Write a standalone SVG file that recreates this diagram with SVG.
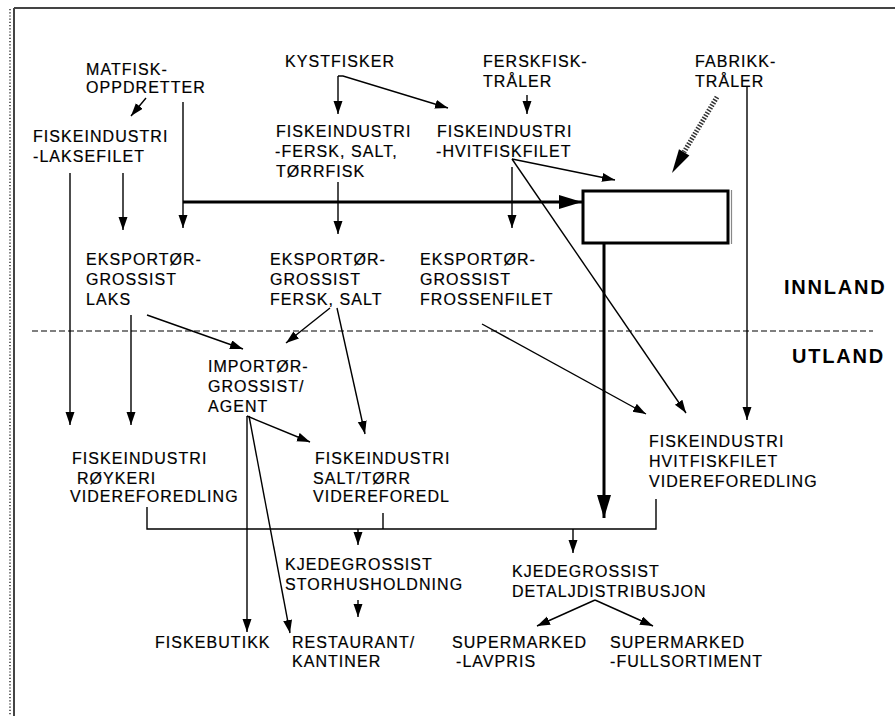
<svg xmlns="http://www.w3.org/2000/svg" width="895" height="716" viewBox="0 0 895 716">
<style>
text{font-family:"Liberation Sans",Arial,sans-serif;font-size:16px;letter-spacing:1.05px;fill:#000;stroke:#000;stroke-width:0.2}
.big{font-size:20px;font-weight:bold;letter-spacing:1.8px;stroke-width:0}
.c{fill:none;stroke:#000;stroke-width:1.4}
.t{fill:none;stroke:#000;stroke-width:3}
</style>
<defs>
<marker id="a" markerUnits="userSpaceOnUse" markerWidth="14" markerHeight="10" refX="13" refY="4.5" orient="auto"><path d="M0,0 L13,4.5 L0,9 z" fill="#000"/></marker>
<marker id="b" markerUnits="userSpaceOnUse" markerWidth="24" markerHeight="14" refX="23" refY="7" orient="auto"><path d="M0,0 L23,7 L0,14 z" fill="#000"/></marker>
</defs>
<rect width="895" height="716" fill="#fff"/>
<g id="frame">
<line x1="14" y1="8" x2="895" y2="8" stroke="#444" stroke-width="2"/>
<line x1="14" y1="8" x2="14" y2="716" stroke="#444" stroke-width="2"/>
<line x1="10" y1="9" x2="10" y2="716" stroke="#333" stroke-width="1.5" stroke-dasharray="1.2,2"/>
<line x1="32" y1="331" x2="873" y2="331" stroke="#000" stroke-width="1.2" stroke-dasharray="6,3"/>
</g>
<g id="connectors">
<line class="c" x1="146" y1="98" x2="131" y2="116" stroke-width="2.2" marker-end="url(#a)"/>
<line class="c" x1="70" y1="173" x2="70" y2="425" marker-end="url(#a)"/>
<line class="c" x1="123" y1="173" x2="123" y2="230" marker-end="url(#a)"/>
<line class="c" x1="183" y1="102" x2="183" y2="228" marker-end="url(#a)"/>
<line class="t" x1="183" y1="202" x2="582" y2="202" marker-end="url(#b)"/>
<line class="c" x1="338" y1="76" x2="338" y2="114" marker-end="url(#a)"/>
<polyline class="c" points="338,76 343,76 448,108" marker-end="url(#a)"/>
<line class="c" x1="527" y1="95" x2="527" y2="114" marker-end="url(#a)"/>
<line class="c" x1="338" y1="182" x2="338" y2="234" marker-end="url(#a)"/>
<line class="c" x1="512" y1="167" x2="512" y2="228" marker-end="url(#a)"/>
<line class="c" x1="512" y1="159" x2="615" y2="180" marker-end="url(#a)"/>
<line class="c" x1="512" y1="159" x2="686" y2="413" marker-end="url(#a)"/>
<line x1="717" y1="97" x2="684" y2="152" stroke="#333" stroke-width="5" stroke-dasharray="1.5,1.5"/>
<polygon points="672,173 689.4,155.4 679,149.2" fill="#000"/>
<line class="c" x1="747" y1="87" x2="747" y2="420" marker-end="url(#a)"/>
<line class="t" x1="604" y1="243" x2="604" y2="518" marker-end="url(#b)"/>
<line class="c" x1="131" y1="315" x2="131" y2="425" marker-end="url(#a)"/>
<line class="c" x1="147" y1="315" x2="243" y2="349" marker-end="url(#a)"/>
<line class="c" x1="330" y1="308" x2="286" y2="343" marker-end="url(#a)"/>
<line class="c" x1="337" y1="308" x2="365" y2="434" marker-end="url(#a)"/>
<line class="c" x1="482" y1="324" x2="646" y2="414" marker-end="url(#a)"/>
<line class="c" x1="247" y1="416" x2="310" y2="442" marker-end="url(#a)"/>
<line class="c" x1="247" y1="416" x2="247" y2="632" marker-end="url(#a)"/>
<line class="c" x1="249" y1="416" x2="290" y2="633" marker-end="url(#a)"/>
<polyline class="c" points="147,507 147,529 656,529 656,499"/>
<line class="c" x1="383" y1="513" x2="383" y2="529"/>
<line class="c" x1="358" y1="529" x2="358" y2="545" marker-end="url(#a)"/>
<line class="c" x1="573" y1="529" x2="573" y2="553" marker-end="url(#a)"/>
<line class="c" x1="358" y1="600" x2="358" y2="617" marker-end="url(#a)"/>
<line class="c" x1="595" y1="600" x2="537" y2="626" marker-end="url(#a)"/>
<line class="c" x1="595" y1="600" x2="653" y2="626" marker-end="url(#a)"/>
</g>
<g id="box">
<rect x="583" y="191" width="145" height="52" fill="#fff" stroke="#000" stroke-width="3"/>
<line x1="731.5" y1="190" x2="731.5" y2="244" stroke="#888" stroke-width="1.2"/>
</g>
<g id="matfisk"><text x="86" y="75">MATFISK-</text><text x="86" y="93">OPPDRETTER</text></g>
<g id="kystfisker"><text x="285" y="67">KYSTFISKER</text></g>
<g id="ferskfisktraler"><text x="483" y="67">FERSKFISK-</text><text x="483" y="87">TRÅLER</text></g>
<g id="fabrikktraler"><text x="695" y="67">FABRIKK-</text><text x="695" y="87">TRÅLER</text></g>
<g id="fi-laksefilet"><text x="33" y="142">FISKEINDUSTRI</text><text x="33" y="162">-LAKSEFILET</text></g>
<g id="fi-fersk"><text x="276" y="137">FISKEINDUSTRI</text><text x="275" y="157">-FERSK, SALT,</text><text x="276" y="177">TØRRFISK</text></g>
<g id="fi-hvitfisk"><text x="437" y="137">FISKEINDUSTRI</text><text x="436" y="157">-HVITFISKFILET</text></g>
<g id="eks-laks"><text x="86" y="265">EKSPORTØR-</text><text x="86" y="285">GROSSIST</text><text x="86" y="305">LAKS</text></g>
<g id="eks-fersk"><text x="270" y="265">EKSPORTØR-</text><text x="270" y="285">GROSSIST</text><text x="270" y="305">FERSK, SALT</text></g>
<g id="eks-frossen"><text x="420" y="265">EKSPORTØR-</text><text x="420" y="285">GROSSIST</text><text x="420" y="305">FROSSENFILET</text></g>
<g id="innland"><text class="big" x="784" y="294">INNLAND</text></g>
<g id="utland"><text class="big" x="792" y="363">UTLAND</text></g>
<g id="importor"><text x="208" y="372">IMPORTØR-</text><text x="208" y="392">GROSSIST/</text><text x="208" y="412">AGENT</text></g>
<g id="fi-royk"><text x="72" y="464">FISKEINDUSTRI</text><text x="77" y="484">RØYKERI</text><text x="70" y="502">VIDEREFOREDLING</text></g>
<g id="fi-salt"><text x="315" y="464">FISKEINDUSTRI</text><text x="313" y="484">SALT/TØRR</text><text x="313" y="502">VIDEREFOREDL</text></g>
<g id="fi-hvit-vf"><text x="649" y="447">FISKEINDUSTRI</text><text x="649" y="467">HVITFISKFILET</text><text x="649" y="487">VIDEREFOREDLING</text></g>
<g id="kjede-stor"><text x="285" y="570">KJEDEGROSSIST</text><text x="285" y="590">STORHUSHOLDNING</text></g>
<g id="kjede-detalj"><text x="512" y="577">KJEDEGROSSIST</text><text x="512" y="597">DETALJDISTRIBUSJON</text></g>
<g id="fiskebutikk"><text x="155" y="648">FISKEBUTIKK</text></g>
<g id="restaurant"><text x="292" y="648">RESTAURANT/</text><text x="292" y="667">KANTINER</text></g>
<g id="sm-lavpris"><text x="452" y="648">SUPERMARKED</text><text x="456" y="667">-LAVPRIS</text></g>
<g id="sm-full"><text x="610" y="648">SUPERMARKED</text><text x="610" y="667">-FULLSORTIMENT</text></g>
</svg>
